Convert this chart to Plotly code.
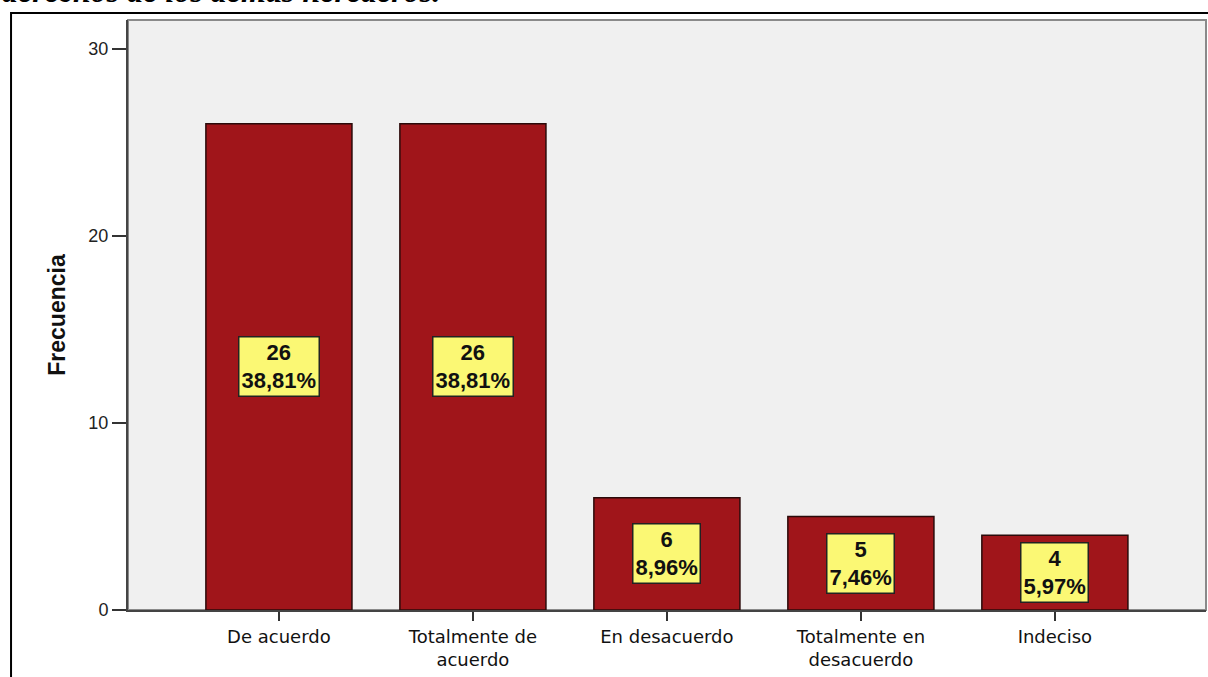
import plotly.graph_objects as go

categories = ["De acuerdo", "Totalmente de<br>acuerdo", "En desacuerdo", "Totalmente en<br>desacuerdo", "Indeciso"]
counts = [26, 26, 6, 5, 4]
percent_labels = ["38,81%", "38,81%", "8,96%", "7,46%", "5,97%"]
y_ticks = [0, 10, 20, 30]

x_idx = list(range(len(categories)))

fig = go.Figure()
fig.add_trace(go.Bar(
    x=x_idx, y=counts, width=0.753,
    marker=dict(color="#A0151A", line=dict(color="#2B0A0A", width=1.5)),
    hoverinfo="skip",
))

annotations = []
for i, (n, p) in enumerate(zip(counts, percent_labels)):
    annotations.append(dict(
        x=i, y=n / 2, xref="x", yref="y",
        text=f"<b>{n}</b><br><b>{p}</b>",
        showarrow=False,
        font=dict(family="Liberation Sans, Arial", size=22, color="#111"),
        bgcolor="#FBF874", bordercolor="#222", borderwidth=1.5, borderpad=2,
    ))
annotations.append(dict(
    x=-0.119, y=1.0145, xref="paper", yref="paper", xanchor="left", yanchor="bottom",
    text="<b><i>derechos de los demás herederos.</i></b>", showarrow=False,
    font=dict(family="Liberation Serif, Times New Roman", size=32, color="#000"),
))

shapes = [
    dict(type="rect", xref="paper", yref="paper", x0=0, x1=1, y0=0, y1=1,
         line=dict(color="#8A8A8A", width=2), layer="below"),
    dict(type="rect", xref="paper", yref="paper", x0=-0.1085, x1=1.05, y0=-0.3, y1=1.0119,
         line=dict(color="#000", width=2), layer="above"),
]

fig.update_layout(
    width=1208, height=677,
    margin=dict(l=128, r=2, t=20, b=67),
    paper_bgcolor="white", plot_bgcolor="#F0F0F0",
    showlegend=False,
    annotations=annotations, shapes=shapes,
    xaxis=dict(
        range=[-0.778, 4.779], tickvals=x_idx, ticktext=categories,
        ticks="outside", ticklen=9, tickcolor="#333", tickwidth=2,
        showline=True, linecolor="#444", linewidth=2, showgrid=False, zeroline=False,
        tickfont=dict(family="DejaVu Sans", size=18, color="#111"),
    ),
    yaxis=dict(
        range=[0, 31.55], tickvals=y_ticks,
        ticks="outside", ticklen=14, tickcolor="#333", tickwidth=2,
        showline=True, linecolor="#444", linewidth=2, showgrid=False, zeroline=False,
        tickfont=dict(family="Liberation Sans, Arial", size=18, color="#222"),
        title=dict(text="<b>Frecuencia</b>", standoff=16,
                   font=dict(family="Liberation Sans, Arial", size=23, color="#111")),
    ),
)

fig.write_html("out.html", config={"displayModeBar": False},
               post_script="document.body.style.margin='0';")
